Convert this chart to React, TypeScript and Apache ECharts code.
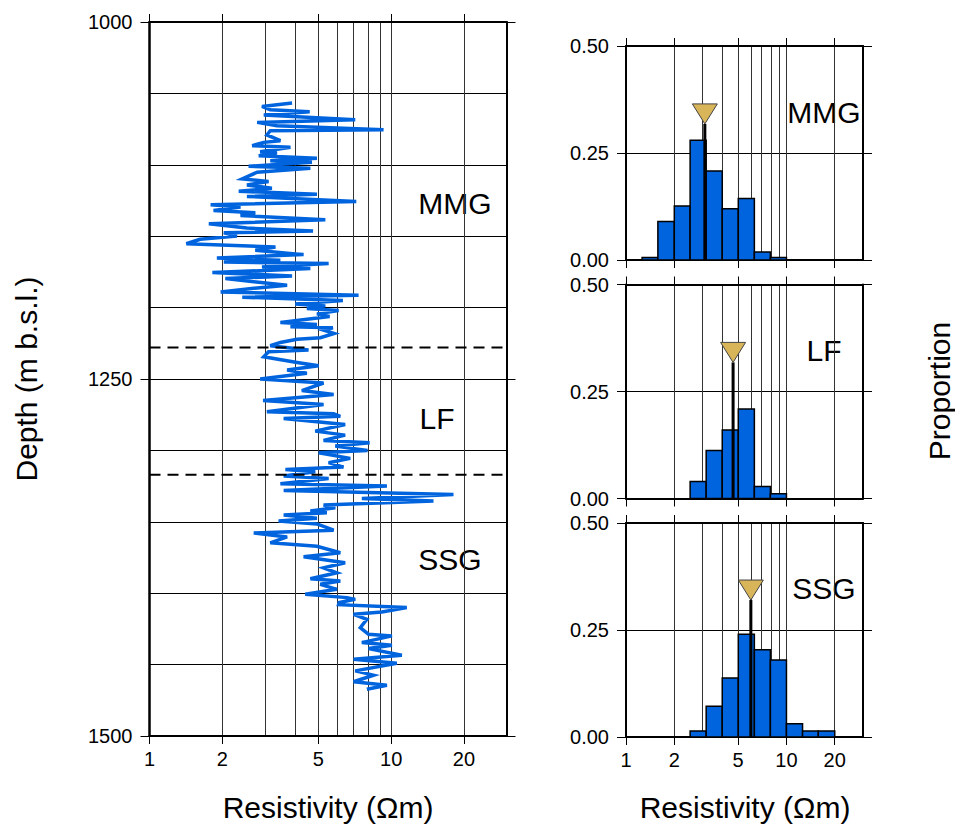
import React, { useEffect, useRef } from 'react';
import * as echarts from 'echarts';

// ---------- data ----------
const logDepth = [
  1056.8, 1059.1, 1061.4, 1062.8, 1065.2, 1068.4, 1070.3, 1072.6, 1075.4, 1076.1,
  1079.1, 1083.1, 1084.3, 1086.6, 1087.7, 1090.8, 1091.7, 1093.6, 1095.4, 1097.1,
  1098.2, 1101.0, 1102.4, 1105.2, 1109.9, 1111.7, 1114.1, 1116.4, 1118.5, 1120.6,
  1122.2, 1125.7, 1128.0, 1129.6, 1132.0, 1133.6, 1135.5, 1138.5, 1141.3, 1144.3,
  1146.4, 1147.6, 1149.9, 1152.2, 1155.3, 1157.6, 1159.9, 1162.9, 1165.3, 1166.9,
  1168.1, 1169.2, 1171.6, 1172.7, 1175.5, 1177.8, 1179.7, 1184.4, 1186.2, 1189.0,
  1191.3, 1192.7, 1195.1, 1197.4, 1198.8, 1200.7, 1202.0, 1204.4, 1206.2, 1210.4,
  1211.8, 1213.4, 1214.1, 1215.8, 1218.1, 1221.1, 1222.1, 1224.4, 1226.7, 1229.7,
  1230.9, 1234.4, 1238.4, 1240.7, 1243.7, 1246.0, 1250.0, 1252.8, 1258.1, 1260.9,
  1265.1, 1267.9, 1273.0, 1274.4, 1276.1, 1277.7, 1281.9, 1286.5, 1289.3, 1293.0,
  1294.7, 1297.0, 1300.0, 1301.7, 1305.6, 1308.6, 1311.7, 1313.3, 1314.9, 1318.0,
  1319.6, 1323.3, 1324.9, 1328.0, 1330.8, 1333.6, 1335.4, 1338.2, 1340.1, 1342.4,
  1343.6, 1345.2, 1347.5, 1349.4, 1351.5, 1355.9, 1357.8, 1360.6, 1364.7, 1367.1,
  1371.7, 1374.5, 1378.7, 1382.2, 1385.7, 1389.9, 1391.5, 1393.8, 1397.3, 1400.8,
  1403.1, 1404.3, 1406.5, 1408.0, 1410.1, 1413.2, 1414.8, 1418.3, 1424.1, 1428.8,
  1429.9, 1434.6, 1436.4, 1438.8, 1443.4, 1446.2, 1449.0, 1454.4, 1457.4, 1462.0,
  1464.4, 1467.2,
];
const logRes = [
  3.89, 2.92, 3.16, 4.60, 2.97, 7.10, 2.79, 3.37, 9.30, 3.16,
  3.06, 3.48, 2.97, 2.66, 3.83, 2.87, 3.37, 2.83, 4.93, 3.16,
  4.70, 2.57, 4.63, 2.79, 2.42, 3.11, 2.53, 3.21, 2.34, 4.93,
  2.53, 7.17, 1.79, 2.38, 1.84, 2.74, 2.38, 5.34, 1.76, 2.53,
  4.75, 2.03, 2.30, 1.62, 1.42, 3.32, 2.74, 4.34, 1.90, 3.48,
  2.03, 5.51, 2.92, 4.63, 1.82, 3.89, 2.06, 3.71, 2.79, 1.97,
  7.33, 2.42, 6.31, 4.01, 5.34, 4.48, 6.06, 4.93, 5.56, 3.48,
  4.93, 3.83, 5.74, 5.25, 5.81, 5.09, 4.08, 3.48, 3.16, 4.55,
  3.11, 2.97, 4.08, 5.01, 3.71, 4.48, 2.87, 5.25, 4.27, 5.78,
  2.95, 5.25, 3.06, 5.78, 6.16, 3.59, 6.45, 4.85, 6.45, 5.25,
  8.14, 5.87, 7.98, 5.01, 6.77, 5.51, 6.35, 3.65, 4.85, 3.59,
  5.51, 3.48, 9.60, 3.59, 18.1, 7.56, 14.96, 5.25, 5.87, 4.63,
  5.42, 3.59, 4.93, 3.42, 4.93, 5.78, 2.70, 3.71, 3.16, 4.93,
  6.16, 4.34, 6.45, 5.25, 5.96, 4.63, 6.16, 5.09, 5.96, 4.41,
  6.56, 7.10, 6.10, 6.06, 11.6, 9.15, 6.99, 7.93, 7.45, 8.06,
  10.07, 7.56, 10.07, 8.06, 11.07, 6.99, 10.55, 7.10, 8.45, 6.99,
  9.60, 7.93,
];
const boundaryDepths = [1228, 1317];
const zoneNames = ['MMG', 'LF', 'SSG'];

const binEdges = [1.26, 1.58, 2.0, 2.51, 3.16, 3.98, 5.01, 6.31, 7.94, 10.0, 12.6, 15.8, 20.0];
const histMMG = [0.006, 0.09, 0.126, 0.28, 0.208, 0.12, 0.1435, 0.0185, 0.006, 0, 0, 0];
const histLF = [0, 0, 0, 0.04, 0.112, 0.16, 0.209, 0.028, 0.011, 0, 0, 0];
const histSSG = [0, 0, 0, 0.014, 0.072, 0.138, 0.24, 0.204, 0.18, 0.031, 0.014, 0.014];
const markerRes = [3.1, 4.65, 6.0];
const markerTip = [0.318, 0.318, 0.32];

const xTickLabels = [1, 2, 5, 10, 20];
const xGridValues = [2, 3, 4, 5, 6, 7, 8, 9, 10, 20];
const depthTicks = [1000, 1250, 1500];
const xMaxRes = 30;

// ---------- chart ----------
const FONT = 'Liberation Sans';
const BLUE = '#0064de';
const LX = Math.log10;
const XMAX = LX(xMaxRes);

function xAxes(gridIndex: number, showLabels: boolean) {
  const common = { type: 'value', gridIndex, min: 0, max: XMAX };
  return [
    {
      ...common,
      position: 'bottom',
      axisLine: { show: true, onZero: false, lineStyle: { color: '#000', width: 2 } },
      axisTick: { show: true, inside: false, length: 8, customValues: xTickLabels.map(LX), lineStyle: { color: '#000', width: 1 } },
      axisLabel: {
        show: showLabels,
        customValues: xTickLabels.map(LX),
        formatter: (v: number) => String(Math.round(Math.pow(10, v))),
        margin: 13,
        fontSize: 20,
        color: '#000',
        fontFamily: FONT,
      },
      splitLine: { show: false },
    },
    {
      ...common,
      position: 'top',
      axisLine: { show: true, onZero: false, lineStyle: { color: '#000', width: 2 } },
      axisTick: { show: true, inside: false, length: 8, customValues: xTickLabels.map(LX), lineStyle: { color: '#000', width: 1 } },
      axisLabel: { show: false },
      splitLine: { show: false },
    },
    {
      ...common,
      position: 'bottom',
      axisLine: { show: false, onZero: false },
      axisTick: { show: false, customValues: xGridValues.map(LX) },
      axisLabel: { show: false },
      splitLine: { show: true, lineStyle: { color: '#333', width: 1 } },
    },
  ];
}

function buildOption() {
  const grids = [
    { left: 149.5, top: 22, width: 357, height: 714 },
    { left: 626, top: 46, width: 237, height: 214 },
    { left: 626, top: 284.5, width: 237, height: 214 },
    { left: 626, top: 523, width: 237, height: 214 },
  ].map((g) => ({ ...g, show: false, containLabel: false, outerBoundsMode: 'none' }));

  const xAxis: any[] = [
    ...xAxes(0, true),
    ...xAxes(1, false),
    ...xAxes(2, false),
    ...xAxes(3, true),
  ];

  const yAxis: any[] = [
    {
      type: 'value', gridIndex: 0, position: 'left', inverse: true, min: 1000, max: 1500,
      axisLine: { show: true, onZero: false, lineStyle: { color: '#000', width: 2.5 } },
      axisTick: { show: true, inside: false, length: 9, customValues: depthTicks, lineStyle: { color: '#000', width: 1 } },
      axisLabel: { customValues: depthTicks, formatter: (v: number) => String(v), margin: 17, fontSize: 20, color: '#000', fontFamily: FONT },
      splitLine: { show: false },
    },
    {
      type: 'value', gridIndex: 0, position: 'right', inverse: true, min: 1000, max: 1500,
      axisLine: { show: true, onZero: false, lineStyle: { color: '#000', width: 2 } },
      axisTick: { show: true, inside: false, length: 9, customValues: depthTicks, lineStyle: { color: '#000', width: 1 } },
      axisLabel: { show: false },
      splitLine: { show: false },
    },
    {
      type: 'value', gridIndex: 0, position: 'left', inverse: true, min: 1000, max: 1500, interval: 50,
      axisLine: { show: false, onZero: false },
      axisTick: { show: false },
      axisLabel: { show: false },
      splitLine: { show: true, lineStyle: { color: '#000', width: 1 } },
    },
  ];
  for (let g = 1; g <= 3; g++) {
    yAxis.push({
      type: 'value', gridIndex: g, position: 'left', min: 0, max: 0.5, interval: 0.25,
      axisLine: { show: true, onZero: false, lineStyle: { color: '#000', width: 2 } },
      axisTick: { show: true, inside: false, length: 9, lineStyle: { color: '#000', width: 1 } },
      axisLabel: { formatter: (v: number) => v.toFixed(2), margin: 17, fontSize: 20, color: '#000', fontFamily: FONT },
      splitLine: { show: true, lineStyle: { color: '#000', width: 1 } },
    });
    yAxis.push({
      type: 'value', gridIndex: g, position: 'right', min: 0, max: 0.5, interval: 0.25,
      axisLine: { show: true, onZero: false, lineStyle: { color: '#000', width: 2 } },
      axisTick: { show: true, inside: false, length: 9, lineStyle: { color: '#000', width: 1 } },
      axisLabel: { show: false },
      splitLine: { show: false },
    });
  }

  const series: any[] = [];
  series.push({
    type: 'line',
    xAxisIndex: 0,
    yAxisIndex: 0,
    data: logDepth.map((d, i) => [LX(logRes[i]), d]),
    showSymbol: false,
    symbol: 'none',
    lineStyle: { color: BLUE, width: 3.5, join: 'miter' },
    z: 3,
    silent: true,
  });
  boundaryDepths.forEach((b) => {
    series.push({
      type: 'line',
      xAxisIndex: 0,
      yAxisIndex: 0,
      data: [[0, b], [XMAX, b]],
      showSymbol: false,
      symbol: 'none',
      lineStyle: { color: '#000', width: 2, type: [11, 7] },
      z: 4,
      silent: true,
    });
  });

  const hists = [histMMG, histLF, histSSG];
  hists.forEach((h, k) => {
    const g = k + 1;
    const xi = g * 3;
    const yi = 3 + k * 2;
    const data = h
      .map((v, i) => [LX(binEdges[i]), LX(binEdges[i + 1]), v])
      .filter((d) => d[2] > 0);
    series.push({
      type: 'custom',
      xAxisIndex: xi,
      yAxisIndex: yi,
      encode: { x: [0, 1], y: 2 },
      data,
      z: 3,
      silent: true,
      renderItem: (_p: any, api: any) => {
        const p0 = api.coord([api.value(0), 0]);
        const p1 = api.coord([api.value(1), api.value(2)]);
        return {
          type: 'rect',
          shape: { x: p0[0], y: p1[1], width: p1[0] - p0[0], height: p0[1] - p1[1] },
          style: { fill: BLUE, stroke: '#000', lineWidth: 1.5 },
        };
      },
    });
    series.push({
      type: 'custom',
      xAxisIndex: xi,
      yAxisIndex: yi,
      encode: { x: 0, y: 1 },
      data: [[LX(markerRes[k]), markerTip[k]]],
      z: 5,
      silent: true,
      renderItem: (_p: any, api: any) => {
        const tip = api.coord([api.value(0), api.value(1)]);
        const base = api.coord([api.value(0), 0]);
        const w = 12.5;
        const hgt = 20;
        return {
          type: 'group',
          children: [
            {
              type: 'line',
              shape: { x1: base[0], y1: base[1], x2: tip[0], y2: tip[1] },
              style: { stroke: '#000', lineWidth: 3 },
            },
            {
              type: 'polygon',
              shape: { points: [[tip[0] - w, tip[1] - hgt], [tip[0] + w, tip[1] - hgt], [tip[0], tip[1]]] },
              style: { fill: '#d9b55a', stroke: '#444', lineWidth: 1 },
            },
          ],
        };
      },
    });
  });

  const title = { fontSize: 30, fontFamily: FONT, fill: '#000', align: 'center', verticalAlign: 'middle' };
  const graphic: any[] = [
    { type: 'text', x: 26, y: 379, rotation: Math.PI / 2, style: { ...title, text: 'Depth (m b.s.l.)' } },
    { type: 'text', x: 328, y: 807, style: { ...title, text: 'Resistivity (\u03A9m)' } },
    { type: 'text', x: 745, y: 807, style: { ...title, text: 'Resistivity (\u03A9m)' } },
    { type: 'text', x: 939, y: 391, rotation: Math.PI / 2, style: { ...title, text: 'Proportion' } },
    { type: 'text', x: 455, y: 203, style: { ...title, text: zoneNames[0] } },
    { type: 'text', x: 437, y: 418, style: { ...title, text: zoneNames[1] } },
    { type: 'text', x: 450, y: 559, style: { ...title, text: zoneNames[2] } },
    { type: 'text', x: 824, y: 112, style: { ...title, text: zoneNames[0] } },
    { type: 'text', x: 824, y: 350, style: { ...title, text: zoneNames[1] } },
    { type: 'text', x: 824, y: 588, style: { ...title, text: zoneNames[2] } },
  ];

  return {
    animation: false,
    backgroundColor: '#fff',
    textStyle: { fontFamily: FONT },
    grid: grids,
    xAxis,
    yAxis,
    series,
    graphic,
  };
}

export default function App() {
  const ref = useRef<HTMLDivElement>(null);
  useEffect(() => {
    if (!ref.current) return;
    const chart = echarts.init(ref.current, null, { renderer: 'svg' });
    chart.setOption(buildOption() as any);
    return () => chart.dispose();
  }, []);
  return (
    <div
      ref={ref}
      style={{ position: 'fixed', left: 0, top: 0, width: 955, height: 825, background: '#fff' }}
    />
  );
}
